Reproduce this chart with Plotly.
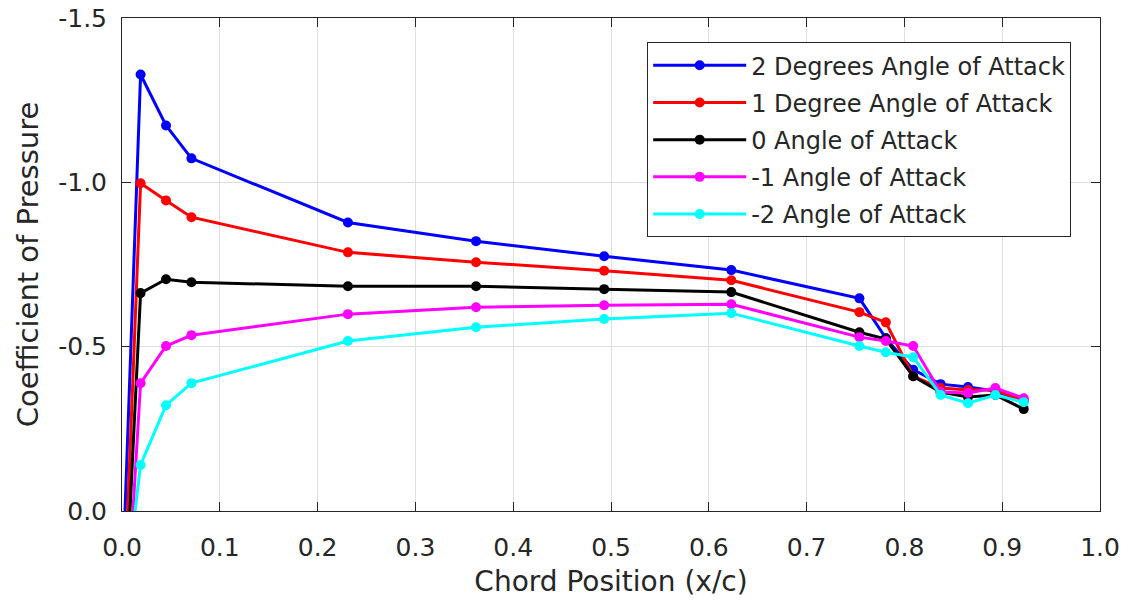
import plotly.graph_objects as go

chord_x = [0.0, 0.019, 0.045, 0.071, 0.231, 0.362, 0.493, 0.623, 0.754, 0.781, 0.809, 0.837, 0.865, 0.893, 0.922]

cp_pos2 = [0.26, -1.328, -1.173, -1.073, -0.878, -0.821, -0.775, -0.733, -0.647, -0.526, -0.43, -0.386, -0.377, -0.365, -0.335]
cp_pos1 = [0.44, -0.997, -0.945, -0.894, -0.787, -0.757, -0.731, -0.702, -0.605, -0.574, -0.41, -0.374, -0.368, -0.368, -0.335]
cp_zero = [0.50, -0.663, -0.705, -0.696, -0.684, -0.684, -0.675, -0.666, -0.544, -0.523, -0.41, -0.362, -0.347, -0.353, -0.31]
cp_neg1 = [0.56, -0.389, -0.502, -0.535, -0.599, -0.620, -0.626, -0.629, -0.529, -0.517, -0.502, -0.362, -0.359, -0.374, -0.343]
cp_neg2 = [0.33, -0.14, -0.322, -0.389, -0.517, -0.559, -0.584, -0.602, -0.502, -0.483, -0.468, -0.353, -0.328, -0.353, -0.331]

series_names = ["2 Degrees Angle of Attack", "1 Degree Angle of Attack", "0 Angle of Attack",
                "-1 Angle of Attack", "-2 Angle of Attack"]
series_values = [cp_pos2, cp_pos1, cp_zero, cp_neg1, cp_neg2]
series_colors = ["#0000FF", "#FF0000", "#000000", "#FF00FF", "#00FFFF"]

x_tickvals = [0.0, 0.1, 0.2, 0.3, 0.4, 0.5, 0.6, 0.7, 0.8, 0.9, 1.0]
x_ticktext = ["0.0", "0.1", "0.2", "0.3", "0.4", "0.5", "0.6", "0.7", "0.8", "0.9", "1.0"]
y_tickvals = [0.0, -0.5, -1.0, -1.5]
y_ticktext = ["0.0", "-0.5", "-1.0", "-1.5"]

FONT = "DejaVu Sans"
TXT = "#262626"

fig = go.Figure()
for i, (name, vals, col) in enumerate(zip(series_names, series_values, series_colors)):
    fig.add_trace(go.Scatter(
        x=chord_x, y=vals, name=name, mode="lines+markers",
        line=dict(color=col, width=3),
        marker=dict(color=col, size=10),
        legendgroup=f"g{i}",
    ))

axis_common = dict(
    showline=True, linecolor=TXT, linewidth=1, mirror="ticks",
    ticks="inside", ticklen=9, tickcolor=TXT, tickwidth=1,
    showgrid=True, gridcolor="#dfdfdf", gridwidth=1, zeroline=False,
    tickfont=dict(family=FONT, size=25, color=TXT),
    automargin=False,
)

fig.update_layout(
    width=1134, height=605,
    margin=dict(l=122, r=34, t=18, b=94),
    paper_bgcolor="white", plot_bgcolor="white",
    font=dict(family=FONT, color=TXT),
    xaxis=dict(range=[0, 1.0], tickvals=x_tickvals, ticktext=x_ticktext, ticklabelstandoff=14,
               title=dict(text="Chord Position (x/c)", font=dict(family=FONT, size=28, color=TXT), standoff=10),
               **axis_common),
    yaxis=dict(range=[0, -1.5], tickvals=y_tickvals, ticktext=y_ticktext, ticklabelstandoff=9,
               title=dict(text="Coefficient of Pressure", font=dict(family=FONT, size=29, color=TXT), standoff=11),
               **axis_common),
    legend=dict(x=0.537, y=0.951, xanchor="left", yanchor="top",
                bgcolor="white", bordercolor=TXT, borderwidth=1,
                font=dict(family=FONT, size=24, color=TXT),
                tracegroupgap=3, itemwidth=93),
    showlegend=True,
)

fig.write_html("out.html")
